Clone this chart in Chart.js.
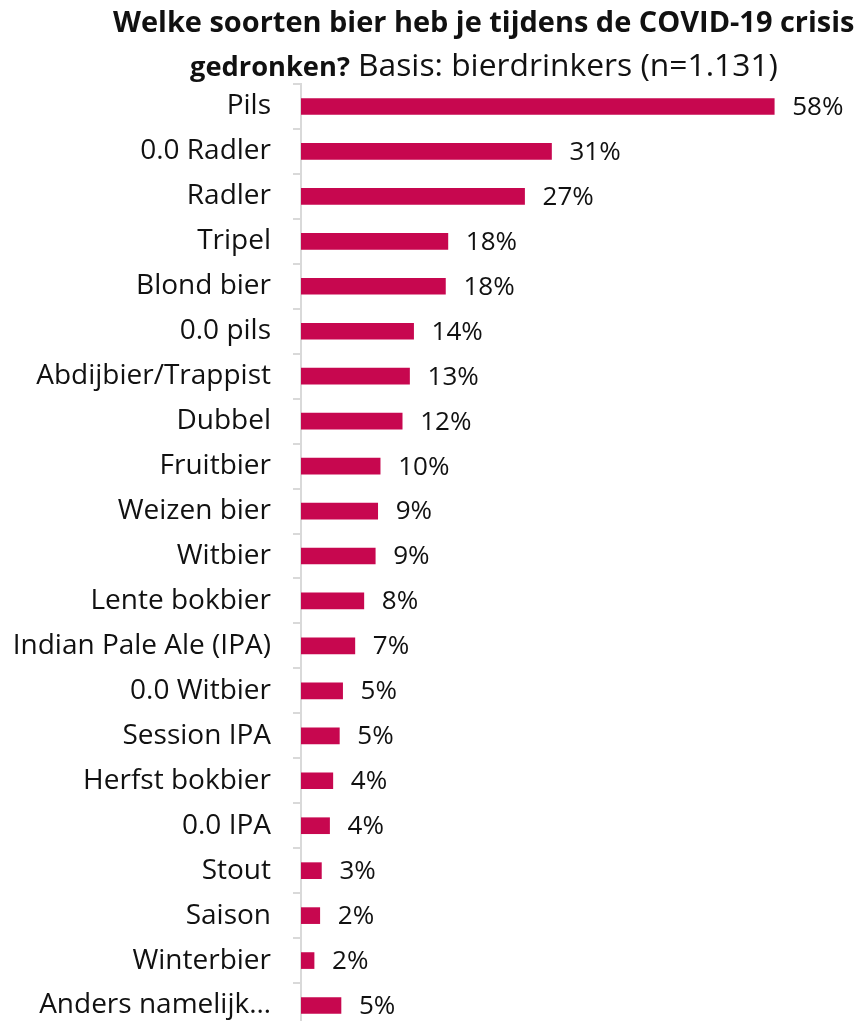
<!DOCTYPE html>
<html lang="nl">
<head>
<meta charset="utf-8">
<title>Biersoorten COVID-19</title>
<script src="https://cdn.jsdelivr.net/npm/chart.js@4.4.1/dist/chart.umd.min.js"></script>
<style>
  html, body { margin: 0; padding: 0; background: #fff; overflow: hidden; }
  #wrap { position: relative; width: 864px; height: 1028px; }
</style>
</head>
<body>
<div id="wrap"><canvas id="chart-bier" width="864" height="1028"></canvas></div>
<script>
/* ── Data ── */
const titleBold  = 'Welke soorten bier heb je tijdens de COVID-19 crisis';
const titleBold2 = 'gedronken?';
const titleBase  = 'Basis: bierdrinkers (n=1.131)';

const categories = [
  'Pils', '0.0 Radler', 'Radler', 'Tripel', 'Blond bier', '0.0 pils',
  'Abdijbier/Trappist', 'Dubbel', 'Fruitbier', 'Weizen bier', 'Witbier',
  'Lente bokbier', 'Indian Pale Ale (IPA)', '0.0 Witbier', 'Session IPA',
  'Herfst bokbier', '0.0 IPA', 'Stout', 'Saison', 'Winterbier', 'Anders namelijk…'
];
const shares = [
  58, 30.7, 27.4, 18.0, 17.7, 13.8,
  13.3, 12.4, 9.7, 9.4, 9.1,
  7.7, 6.6, 5.1, 4.7,
  3.9, 3.5, 2.5, 2.3, 1.6, 4.9
];

/* ── Style ── */
const BAR_COLOR  = '#C7074F';
const AXIS_COLOR = '#d9d9d9';
const TEXT_COLOR = '#111';
const FAMILY     = '"Open Sans", sans-serif';
const LABEL_FONT = { family: FAMILY, size: 28 };
const VALUE_SIZE = 26;

/* ── Title plugin (bold + normal on one line) ── */
function fitSize(ctx, weight, text, target) {
  ctx.font = `${weight} 24px ${FAMILY}`;
  return 24 * target / ctx.measureText(text).width;
}

const titlePlugin = {
  id: 'titleMixed',
  afterDraw(chart) {
    const ctx = chart.ctx;
    ctx.save();
    ctx.fillStyle = TEXT_COLOR;
    ctx.textBaseline = 'alphabetic';
    ctx.textAlign = 'left';
    // widths
    const sBold  = fitSize(ctx, 'bold', titleBold, 742);
    const sBold2 = fitSize(ctx, 'bold', titleBold2, 160);
    const sNorm  = fitSize(ctx, 'normal', titleBase, 420);
    ctx.font = `bold ${sBold}px ${FAMILY}`;
    ctx.fillText(titleBold, 113, 32);
    ctx.font = `bold ${sBold2}px ${FAMILY}`;
    ctx.fillText(titleBold2, 190, 76);
    ctx.font = `normal ${sNorm}px ${FAMILY}`;
    ctx.fillText(titleBase, 358, 76);
    ctx.restore();
  }
};

/* ── Value labels next to bars ── */
const valueLabels = {
  id: 'valueLabels',
  afterDatasetsDraw(chart) {
    const ctx = chart.ctx;
    const meta = chart.getDatasetMeta(0);
    ctx.save();
    ctx.fillStyle = TEXT_COLOR;
    ctx.font = `${VALUE_SIZE}px ${FAMILY}`;
    ctx.textAlign = 'left';
    ctx.textBaseline = 'middle';
    meta.data.forEach((bar, i) => {
      ctx.fillText(Math.round(shares[i]) + '%', bar.x + 18, bar.y + 1);
    });
    ctx.restore();
  }
};

/* ── Chart ── */
new Chart(document.getElementById('chart-bier'), {
  type: 'bar',
  data: {
    labels: categories,
    datasets: [{
      data: shares,
      backgroundColor: BAR_COLOR,
      borderWidth: 0,
      barThickness: 16
    }]
  },
  options: {
    indexAxis: 'y',
    responsive: false,
    animation: false,
    layout: { padding: { top: 84, right: 0, bottom: 0, left: 0 } },
    plugins: {
      legend: { display: false },
      tooltip: { enabled: false }
    },
    scales: {
      x: { display: false, min: 0, max: 69 },
      y: {
        afterFit(scale) {
          scale.width = 301;
          scale.paddingTop = 0;
          scale.paddingBottom = 0;
        },
        grid: {
          drawOnChartArea: false, drawTicks: true,
          tickLength: 8, color: AXIS_COLOR, lineWidth: 2
        },
        border: { display: true, color: AXIS_COLOR, width: 2 },
        ticks: { color: TEXT_COLOR, font: LABEL_FONT, padding: 22, autoSkip: false }
      }
    }
  },
  plugins: [titlePlugin, valueLabels]
});
</script>
</body>
</html>
